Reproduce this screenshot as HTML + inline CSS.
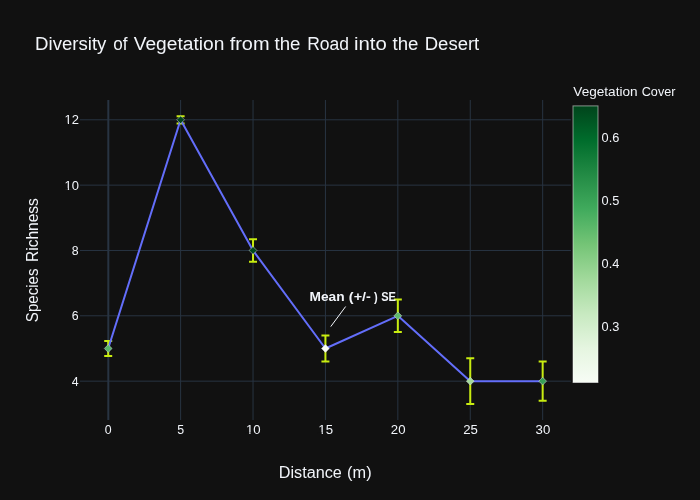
<!DOCTYPE html>
<html><head><meta charset="utf-8"><title>chart</title>
<style>
html,body{margin:0;padding:0;background:#111111;}
body{width:700px;height:500px;overflow:hidden;}
svg{display:block;will-change:transform;}
text{font-family:"Liberation Sans",sans-serif;fill:#f2f5fa;white-space:pre;}
</style></head><body>
<svg width="700" height="500" viewBox="0 0 700 500">
<defs><linearGradient id="cb" x1="0" y1="1" x2="0" y2="0">
<stop offset="0" stop-color="rgb(247,252,245)"/>
<stop offset="0.125" stop-color="rgb(229,245,224)"/>
<stop offset="0.25" stop-color="rgb(199,233,192)"/>
<stop offset="0.375" stop-color="rgb(161,217,155)"/>
<stop offset="0.5" stop-color="rgb(116,196,118)"/>
<stop offset="0.625" stop-color="rgb(65,171,93)"/>
<stop offset="0.75" stop-color="rgb(35,139,69)"/>
<stop offset="0.875" stop-color="rgb(0,109,44)"/>
<stop offset="1" stop-color="rgb(0,68,27)"/>
</linearGradient></defs>
<rect x="0" y="0" width="700" height="500" fill="#111111"/>

<g stroke="#283442" stroke-width="1">
<line x1="180.61" x2="180.61" y1="100" y2="420"/>
<line x1="253.02" x2="253.02" y1="100" y2="420"/>
<line x1="325.43" x2="325.43" y1="100" y2="420"/>
<line x1="397.84" x2="397.84" y1="100" y2="420"/>
<line x1="470.25" x2="470.25" y1="100" y2="420"/>
<line x1="542.66" x2="542.66" y1="100" y2="420"/>
<line x1="80" x2="570.9" y1="381.15" y2="381.15"/>
<line x1="80" x2="570.9" y1="315.81" y2="315.81"/>
<line x1="80" x2="570.9" y1="250.47" y2="250.47"/>
<line x1="80" x2="570.9" y1="185.13" y2="185.13"/>
<line x1="80" x2="570.9" y1="119.79" y2="119.79"/>
<line x1="108.32" x2="108.32" y1="100" y2="420" stroke-width="2"/>
</g>
<g stroke="rgb(200,236,16)" stroke-width="2" fill="none">
<path d="M104.20,341.08h8m-4,0V355.88m-4,0h8"/>
<path d="M176.61,116.19h8m-4,0V123.39m-4,0h8"/>
<path d="M249.02,239.27h8m-4,0V261.67m-4,0h8"/>
<path d="M321.43,335.58h8m-4,0V361.38m-4,0h8"/>
<path d="M393.84,299.51h8m-4,0V332.11m-4,0h8"/>
<path d="M466.25,358.30h8m-4,0V404.00m-4,0h8"/>
<path d="M538.66,361.60h8m-4,0V400.70m-4,0h8"/>
</g>
<polyline points="108.20,348.48 180.61,119.79 253.02,250.47 325.43,348.48 397.84,315.81 470.25,381.15 542.66,381.15" fill="none" stroke="#636efa" stroke-width="2" stroke-linejoin="round"/>
<path d="M108.20,344.58L112.10,348.48L108.20,352.38L104.30,348.48Z" fill="rgb(86,181,106)" stroke="rgba(230,230,230,0.8)" stroke-width="0.6"/>
<path d="M180.61,115.89L184.51,119.79L180.61,123.69L176.71,119.79Z" fill="rgb(0,69,28)" stroke="rgba(230,230,230,0.8)" stroke-width="0.6"/>
<path d="M253.02,246.57L256.92,250.47L253.02,254.37L249.12,250.47Z" fill="rgb(0,72,30)" stroke="rgba(230,230,230,0.8)" stroke-width="0.6"/>
<path d="M325.43,344.58L329.33,348.48L325.43,352.38L321.53,348.48Z" fill="rgb(247,252,245)" stroke="rgba(230,230,230,0.8)" stroke-width="0.6"/>
<path d="M397.84,311.91L401.74,315.81L397.84,319.71L393.94,315.81Z" fill="rgb(95,186,110)" stroke="rgba(230,230,230,0.8)" stroke-width="0.6"/>
<path d="M470.25,377.25L474.15,381.15L470.25,385.05L466.35,381.15Z" fill="rgb(163,218,157)" stroke="rgba(230,230,230,0.8)" stroke-width="0.6"/>
<path d="M542.66,377.25L546.56,381.15L542.66,385.05L538.76,381.15Z" fill="rgb(55,160,88)" stroke="rgba(230,230,230,0.8)" stroke-width="0.6"/>
<line x1="345.65" y1="306.5" x2="330.75" y2="326.6" stroke="#f2f5fa" stroke-width="1"/>
<text x="309.55" y="300.6" font-size="12" font-weight="bold" textLength="35.08" lengthAdjust="spacingAndGlyphs">Mean</text>
<text x="348.85" y="300.6" font-size="12" font-weight="bold" textLength="22.00" lengthAdjust="spacingAndGlyphs">(+/-</text>
<text x="374.06" y="300.6" font-size="12" font-weight="bold" textLength="3.68" lengthAdjust="spacingAndGlyphs">)</text>
<text x="381.14" y="300.6" font-size="12" font-weight="bold" textLength="14.73" lengthAdjust="spacingAndGlyphs">SE</text>
<text x="104.77" y="433.60" font-size="12" textLength="6.87" lengthAdjust="spacingAndGlyphs">0</text>
<text x="177.18" y="433.60" font-size="12" textLength="6.87" lengthAdjust="spacingAndGlyphs">5</text>
<text x="245.98" y="433.60" font-size="12" textLength="14.68" lengthAdjust="spacingAndGlyphs">10</text>
<text x="318.39" y="433.60" font-size="12" textLength="14.68" lengthAdjust="spacingAndGlyphs">15</text>
<text x="390.80" y="433.60" font-size="12" textLength="14.68" lengthAdjust="spacingAndGlyphs">20</text>
<text x="463.21" y="433.60" font-size="12" textLength="14.68" lengthAdjust="spacingAndGlyphs">25</text>
<text x="535.62" y="433.60" font-size="12" textLength="14.68" lengthAdjust="spacingAndGlyphs">30</text>
<text x="71.83" y="385.55" font-size="12" textLength="6.87" lengthAdjust="spacingAndGlyphs">4</text>
<text x="71.83" y="320.21" font-size="12" textLength="6.87" lengthAdjust="spacingAndGlyphs">6</text>
<text x="71.83" y="254.87" font-size="12" textLength="6.87" lengthAdjust="spacingAndGlyphs">8</text>
<text x="64.58" y="189.53" font-size="12" textLength="14.42" lengthAdjust="spacingAndGlyphs">10</text>
<text x="64.58" y="124.19" font-size="12" textLength="14.42" lengthAdjust="spacingAndGlyphs">12</text>
<g fill="#111111"><rect x="245.46" y="432.40" width="3.83" height="1.6"/><rect x="250.46" y="432.40" width="2.86" height="1.6"/><rect x="317.87" y="432.40" width="3.83" height="1.6"/><rect x="322.87" y="432.40" width="2.86" height="1.6"/><rect x="64.08" y="188.33" width="3.77" height="1.6"/><rect x="68.99" y="188.33" width="2.81" height="1.6"/><rect x="64.08" y="122.99" width="3.77" height="1.6"/><rect x="68.99" y="122.99" width="2.81" height="1.6"/></g>
<text x="35.12" y="50" font-size="18" textLength="71.33" lengthAdjust="spacingAndGlyphs">Diversity</text>
<text x="113.15" y="50" font-size="18" textLength="14.25" lengthAdjust="spacingAndGlyphs">of</text>
<text x="133.65" y="50" font-size="18" textLength="90.68" lengthAdjust="spacingAndGlyphs">Vegetation</text>
<text x="229.65" y="50" font-size="18" textLength="39.90" lengthAdjust="spacingAndGlyphs">from</text>
<text x="274.55" y="50" font-size="18" textLength="25.91" lengthAdjust="spacingAndGlyphs">the</text>
<text x="307.18" y="50" font-size="18" textLength="41.86" lengthAdjust="spacingAndGlyphs">Road</text>
<text x="354.02" y="50" font-size="18" textLength="32.84" lengthAdjust="spacingAndGlyphs">into</text>
<text x="392.55" y="50" font-size="18" textLength="25.91" lengthAdjust="spacingAndGlyphs">the</text>
<text x="424.72" y="50" font-size="18" textLength="54.53" lengthAdjust="spacingAndGlyphs">Desert</text>
<text x="278.74" y="478.0" font-size="16" textLength="63.01" lengthAdjust="spacingAndGlyphs">Distance</text>
<text x="347.13" y="478.0" font-size="16" textLength="24.45" lengthAdjust="spacingAndGlyphs">(m)</text>
<g transform="translate(38,322.3) rotate(-90)">
<text x="0.15" y="0" font-size="16" textLength="53.60" lengthAdjust="spacingAndGlyphs">Species</text>
<text x="60.28" y="0" font-size="16" textLength="63.87" lengthAdjust="spacingAndGlyphs">Richness</text>
</g>
<rect x="573" y="105.9" width="25" height="276.6" fill="url(#cb)" stroke="rgba(255,255,255,0.5)" stroke-width="1"/>
<text x="573.35" y="95.6" font-size="12" textLength="64.26" lengthAdjust="spacingAndGlyphs">Vegetation</text>
<text x="641.75" y="95.6" font-size="12" textLength="33.70" lengthAdjust="spacingAndGlyphs">Cover</text>
<text x="601.55" y="141.80" font-size="12" textLength="17.77" lengthAdjust="spacingAndGlyphs">0.6</text>
<text x="601.55" y="204.80" font-size="12" textLength="17.77" lengthAdjust="spacingAndGlyphs">0.5</text>
<text x="601.55" y="267.80" font-size="12" textLength="17.77" lengthAdjust="spacingAndGlyphs">0.4</text>
<text x="601.55" y="330.80" font-size="12" textLength="17.77" lengthAdjust="spacingAndGlyphs">0.3</text>
</svg></body></html>
